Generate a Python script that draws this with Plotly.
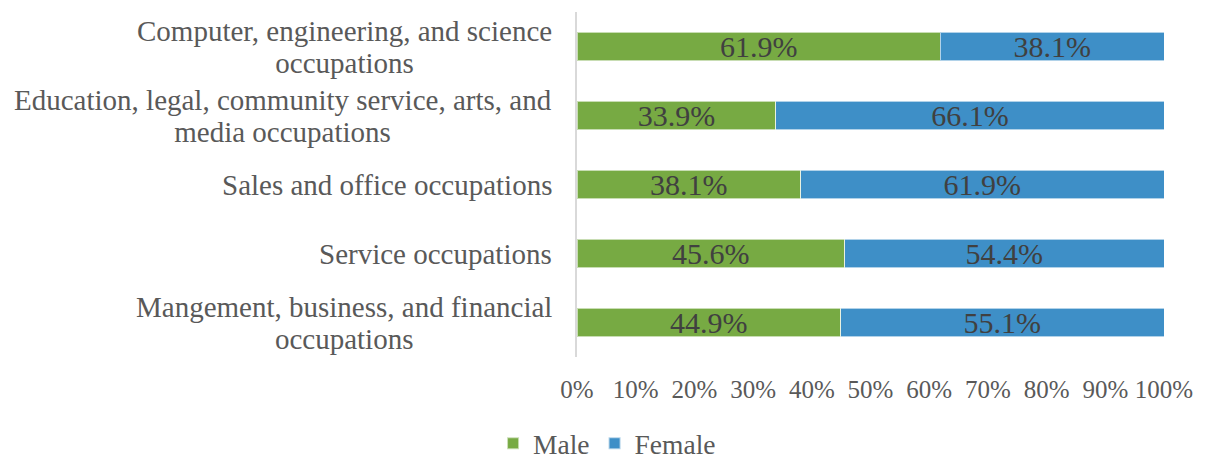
import plotly.graph_objects as go

categories = [
    "Computer, engineering, and science<br>occupations",
    "Education, legal, community service, arts, and<br>media occupations",
    "Sales and office occupations",
    "Service occupations",
    "Mangement, business, and financial<br>occupations",
]
male = [61.9, 33.9, 38.1, 45.6, 44.9]
female = [38.1, 66.1, 61.9, 54.4, 55.1]
x_ticks = [0, 10, 20, 30, 40, 50, 60, 70, 80, 90, 100]

FONT = "Liberation Serif, Times New Roman, serif"
GREEN = "#77AA43"
BLUE = "#3E8FC7"

fig = go.Figure()
for name, vals, col in [("Male", male, GREEN), ("Female", female, BLUE)]:
    fig.add_trace(go.Bar(
        y=categories, x=vals, name=name, orientation="h",
        marker=dict(color=col, line=dict(color="rgba(255,255,255,0.6)", width=1)),
        text=[f"{v:.1f}%" for v in vals], textposition="inside",
        insidetextanchor="middle", constraintext="none",
        textfont=dict(family=FONT, size=30, color="#404040"),
        hoverinfo="skip",
    ))

# base font size sets the (tighter) line spacing; spans set the glyph size
for c in categories:
    styled = "<br>".join(f'<span style="font-size:29px">{ln}</span>' for ln in c.split("<br>"))
    fig.add_annotation(
        x=-0.039, xref="paper", y=c, yref="y", text=styled, showarrow=False,
        xanchor="right", yanchor="middle", align="center",
        font=dict(family=FONT, size=24.6, color="#595959"),
    )

# page body adds an 8px offset, so the figure is sized to the visible window
fig.update_layout(
    barmode="stack", bargap=0.594,
    width=1197, height=452,
    margin=dict(l=569, r=41, t=4, b=103, autoexpand=False),
    paper_bgcolor="white", plot_bgcolor="white",
    font=dict(family=FONT, size=26, color="#595959"),
    legend=dict(orientation="h", x=-0.143, xanchor="left", y=-0.25, yanchor="middle",
                font=dict(family=FONT, size=27.5, color="#595959"),
                itemsizing="constant", traceorder="normal"),
    uniformtext=dict(mode=False),
)
fig.update_xaxes(range=[0, 100], tickvals=x_ticks, ticktext=[f"{t}%" for t in x_ticks],
                 showgrid=False, zeroline=False, showline=False, ticks="", automargin=False,
                 ticklabelstandoff=15, tickfont=dict(family=FONT, size=25, color="#595959"))
fig.update_yaxes(autorange="reversed", showticklabels=False, showgrid=False, automargin=False,
                 zeroline=False, showline=True, linecolor="#D9D9D9", linewidth=2, ticks="")

fig.write_html("out.html")
